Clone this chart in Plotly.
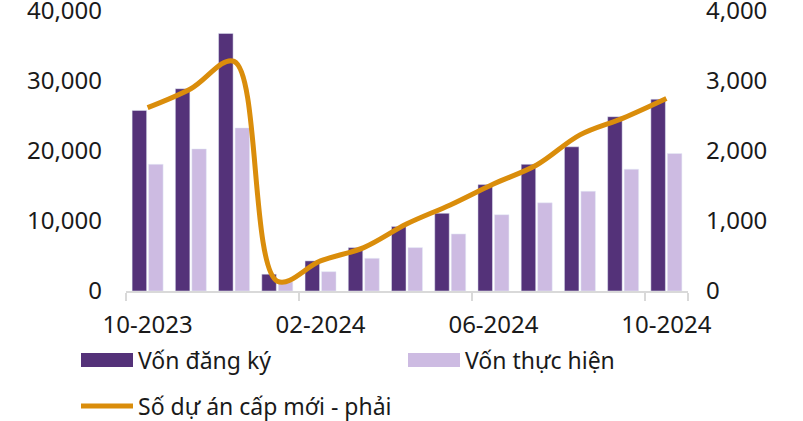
import plotly.graph_objects as go

months = ["10-2023", "11-2023", "12-2023", "01-2024", "02-2024", "03-2024", "04-2024",
          "05-2024", "06-2024", "07-2024", "08-2024", "09-2024", "10-2024"]
von_dang_ky = [25800, 28900, 36800, 2400, 4300, 6200, 9200, 11100, 15200, 18100, 20600, 24900, 27400]
von_thuc_hien = [18100, 20300, 23300, 1300, 2760, 4670, 6200, 8150, 10900, 12600, 14250, 17400, 19650]
so_du_an = [2620, 2890, 3280, 140, 430, 620, 960, 1230, 1530, 1800, 2230, 2470, 2750]

tick_labels = ["10-2023", "02-2024", "06-2024", "10-2024"]

C_DARK = "#543279"
C_LIGHT = "#cdbbe2"
C_LINE = "#da8d0b"
FONT = "Noto Sans"
TXT = "#1a1a1a"
TICK_SIZE = 24
LEG_SIZE = 23

fig = go.Figure()
fig.add_trace(go.Bar(x=months, y=von_dang_ky, name="Vốn đăng ký", marker_color=C_DARK))
fig.add_trace(go.Bar(x=months, y=von_thuc_hien, name="Vốn thực hiện", marker_color=C_LIGHT))
fig.add_trace(go.Scatter(x=months, y=so_du_an, name="Số dự án cấp mới - phải", yaxis="y2",
                         mode="lines", line=dict(color=C_LINE, width=5, shape="spline", smoothing=1.0)))

W, H = 803, 421
L, R, T, B = 126, 115, 11, 130
pw, ph = W - L - R, H - T - B

def px(x):
    return (x - L) / pw

def py(y):
    return (H - B - y) / ph

shapes = []
annotations = []
legend_items = [
    ("rect", C_DARK, 81, 133, 360, "Vốn đăng ký"),
    ("rect", C_LIGHT, 408, 460, 360, "Vốn thực hiện"),
    ("line", C_LINE, 81, 133, 406, "Số dự án cấp mới - phải"),
]
for kind, col, x0, x1, yc, label in legend_items:
    if kind == "rect":
        shapes.append(dict(type="rect", xref="paper", yref="paper", x0=px(x0), x1=px(x1),
                           y0=py(yc + 7), y1=py(yc - 7), fillcolor=col, line_width=0))
    else:
        shapes.append(dict(type="line", xref="paper", yref="paper", x0=px(x0), x1=px(x1),
                           y0=py(yc), y1=py(yc), line=dict(color=col, width=5)))
    annotations.append(dict(xref="paper", yref="paper", x=px(x1 + 3), y=py(yc), text=label,
                            showarrow=False, xanchor="left", yanchor="middle",
                            font=dict(family=FONT, size=LEG_SIZE, color=TXT)))

fig.update_layout(
    width=W, height=H,
    margin=dict(l=L, r=R, t=T, b=B, autoexpand=False),
    paper_bgcolor="white", plot_bgcolor="white",
    barmode="group", bargap=0.237, bargroupgap=0.12,
    showlegend=False,
    font=dict(family=FONT, size=TICK_SIZE, color=TXT),
    xaxis=dict(type="category", tickmode="array", tickvals=tick_labels, ticktext=tick_labels,
               tickson="boundaries", ticks="outside", ticklen=8, tickcolor="#d9d9d9", tickwidth=1.5,
               showline=True, linecolor="#d9d9d9", linewidth=1.5, showgrid=False,
               tickangle=0, automargin=False, ticklabelstandoff=11,
               tickfont=dict(family=FONT, size=TICK_SIZE, color=TXT)),
    yaxis=dict(range=[0, 40000], dtick=10000, tickformat=",", showgrid=False, zeroline=False,
               showline=False, ticks="", automargin=False, ticklabeloverflow="allow",
               ticklabelstandoff=23,
               tickfont=dict(family=FONT, size=TICK_SIZE, color=TXT)),
    yaxis2=dict(range=[0, 4000], dtick=1000, tickformat=",", overlaying="y", side="right",
                showgrid=False, zeroline=False, showline=False, ticks="", automargin=False,
                ticklabeloverflow="allow", ticklabelstandoff=17,
                tickfont=dict(family=FONT, size=TICK_SIZE, color=TXT)),
    shapes=shapes, annotations=annotations,
)

fig.write_html("out.html", config={"displayModeBar": False},
               post_script="document.body.style.margin='0';document.body.style.padding='0';")
